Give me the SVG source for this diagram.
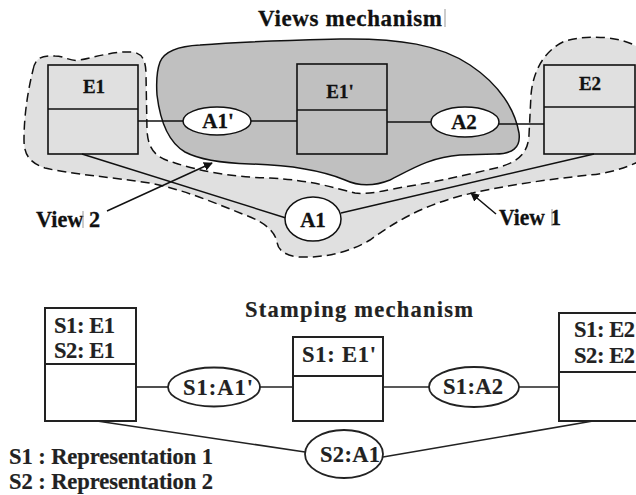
<svg xmlns="http://www.w3.org/2000/svg" width="636" height="495" viewBox="0 0 636 495">
  <style>
    text { font-family: "Liberation Serif", "Times New Roman", serif; font-weight: bold; fill: #111; stroke: #111; stroke-width: 0.3; }
    .title { font-size: 23px; }
    .ent { font-size: 19px; text-anchor: middle; }
    .rel { font-size: 21px; text-anchor: middle; }
    .stamp { font-size: 22.5px; fill: #222; stroke: #222; stroke-width: 0.2; }
    .box { fill: none; stroke: #111; stroke-width: 1.6; }
    .boxw { fill: #fff; stroke: #222; stroke-width: 2; }
    .ell { fill: #fff; stroke: #111; stroke-width: 1.5; }
    .ellb { fill: #fff; stroke: #222; stroke-width: 1.8; }
    .link { fill: none; stroke: #111; stroke-width: 1.5; }
    .linkb { fill: none; stroke: #222; stroke-width: 1.6; }
    .view { fill: #e0e0e0; stroke: #111; stroke-width: 1.5; stroke-dasharray: 9 5; }
    .mech { fill: #c0c0c0; stroke: #111; stroke-width: 1.5; }
    .bar { stroke: #999; stroke-width: 1; }
  </style>
  <defs>
    <marker id="tip" viewBox="0 0 10 10" refX="9" refY="5" markerWidth="9" markerHeight="9" orient="auto" markerUnits="userSpaceOnUse">
      <path d="M0,0 L10,5 L0,10 Z" fill="#111"/>
    </marker>
  </defs>

  <rect width="636" height="495" fill="#fff"/>

  <!-- Views mechanism -->
  <g id="views-title">
    <text class="title" x="258" y="26" textLength="184" lengthAdjust="spacing">Views mechanism</text>
    <line class="bar" x1="445" y1="9" x2="445" y2="27"/>
  </g>

  <!-- View 1 / View 2 regions (dashed outline) -->
  <g id="view-regions">
    <path class="view" d="M33,70 C35,58 42,55 55,56 C65,56 70,62 80,60 C95,57 115,51 132,52 C142,53 146,60 146,75 L147,130 C148,150 156,158 175,163 C200,171 230,177 270,178 C310,180 335,188 355,193 C370,195 385,190 410,186 C440,181 470,174 500,167 C520,161 528,152 529,135 L531,95 C533,70 545,50 565,41 C590,34 620,37 636,46 L660,60 L660,150 C640,162 620,172 590,175 C550,179 500,186 460,196 C420,207 395,222 370,240 C350,252 325,258 300,257 C285,256 278,250 277,242 C275,232 265,222 245,215 C215,203 185,190 150,183 C110,177 70,174 45,168 C30,163 24,155 24,140 C24,115 28,90 33,70 Z"/>
  </g>

  <!-- shared part of the mechanism -->
  <g id="mechanism">
    <path class="mech" d="M160,62 C165,50 180,46 200,45 C250,41 300,40 340,39 C400,38 440,45 470,65 C500,85 515,110 519,133 C521,148 512,154 495,154 L460,155 C430,157 410,170 390,180 C375,186 360,187 345,180 C320,170 290,165 250,164 C220,163 200,160 185,152 C168,142 160,120 157,95 C156,80 157,70 160,62 Z"/>
  </g>

  <!-- connectors -->
  <g id="connectors">
    <line class="link" x1="138" y1="121" x2="183" y2="121"/>
    <line class="link" x1="251" y1="121" x2="297" y2="121"/>
    <line class="link" x1="387" y1="122" x2="431" y2="122"/>
    <line class="link" x1="499" y1="124" x2="544" y2="124"/>
    <line class="link" x1="82" y1="154" x2="286" y2="218"/>
    <line class="link" x1="341" y1="213" x2="594" y2="154"/>
    <line class="link" x1="107" y1="211" x2="212" y2="163" marker-end="url(#tip)"/>
    <line class="link" x1="496" y1="214" x2="471" y2="193" marker-end="url(#tip)"/>

    <line class="linkb" x1="136" y1="387" x2="168" y2="387"/>
    <line class="linkb" x1="260" y1="387" x2="293" y2="387"/>
    <line class="linkb" x1="383" y1="387" x2="429" y2="387"/>
    <line class="linkb" x1="519" y1="387" x2="559" y2="387"/>
    <line class="linkb" x1="97" y1="421" x2="305" y2="452"/>
    <line class="linkb" x1="383" y1="457" x2="593" y2="421"/>
  </g>

  <g id="E1">
    <rect class="box" x="48" y="65" width="90" height="89"/>
    <line class="box" x1="48" y1="109" x2="138" y2="109"/>
    <text class="ent" x="94" y="93">E1</text>
  </g>
  <g id="E1p">
    <rect class="box" x="297" y="64" width="90" height="90"/>
    <line class="box" x1="297" y1="110" x2="387" y2="110"/>
    <text class="ent" x="340" y="98">E1'</text>
  </g>
  <g id="E2">
    <rect class="box" x="544" y="65" width="91" height="89"/>
    <line class="box" x1="544" y1="107" x2="635" y2="107"/>
    <text class="ent" x="590" y="90">E2</text>
  </g>
  <g id="A1p">
    <ellipse class="ell" cx="217" cy="121" rx="34" ry="14"/>
    <text class="rel" x="218" y="128">A1'</text>
  </g>
  <g id="A2">
    <ellipse class="ell" cx="465" cy="122" rx="34" ry="15"/>
    <text class="rel" x="464" y="129">A2</text>
  </g>
  <g id="A1">
    <ellipse class="ell" cx="313" cy="219" rx="28" ry="22"/>
    <text class="rel" x="313" y="227">A1</text>
  </g>

  <g id="view2-label">
    <text class="title" x="36" y="227" textLength="64" lengthAdjust="spacingAndGlyphs">View 2</text>
    <line class="bar" x1="83" y1="211" x2="83" y2="228"/>
  </g>
  <g id="view1-label">
    <text class="title" x="499" y="225" textLength="62" lengthAdjust="spacingAndGlyphs">View 1</text>
    <line class="bar" x1="552" y1="209" x2="552" y2="226"/>
  </g>

  <!-- Stamping mechanism -->
  <g id="stamping-title">
    <text class="stamp" x="245" y="317" font-size="24" textLength="228" lengthAdjust="spacing">Stamping mechanism</text>
  </g>

  <g id="S-E1">
    <rect class="boxw" x="45" y="308" width="91" height="113"/>
    <line class="boxw" x1="45" y1="364" x2="136" y2="364"/>
    <text class="stamp" x="54" y="333" textLength="61" lengthAdjust="spacing">S1: E1</text>
    <text class="stamp" x="54" y="358" textLength="61" lengthAdjust="spacing">S2: E1</text>
  </g>
  <g id="S-E1p">
    <rect class="boxw" x="293" y="337" width="90" height="84"/>
    <line class="boxw" x1="293" y1="376" x2="383" y2="376"/>
    <text class="stamp" x="302" y="362" textLength="74" lengthAdjust="spacing">S1: E1'</text>
  </g>
  <g id="S-E2">
    <rect class="boxw" x="559" y="313" width="95" height="108"/>
    <line class="boxw" x1="559" y1="372" x2="654" y2="372"/>
    <text class="stamp" x="574" y="337" textLength="61" lengthAdjust="spacing">S1: E2</text>
    <text class="stamp" x="574" y="363" textLength="61" lengthAdjust="spacing">S2: E2</text>
  </g>
  <g id="S-A1p">
    <ellipse class="ellb" cx="214" cy="387" rx="46" ry="19.5"/>
    <text class="stamp" x="183" y="395" textLength="70" lengthAdjust="spacing">S1:A1'</text>
  </g>
  <g id="S-A2">
    <ellipse class="ellb" cx="474" cy="387" rx="45" ry="20"/>
    <text class="stamp" x="443" y="394" textLength="60" lengthAdjust="spacing">S1:A2</text>
  </g>
  <g id="S-A1">
    <ellipse class="ellb" cx="344" cy="454" rx="39" ry="24"/>
    <text class="stamp" x="320" y="462" textLength="60" lengthAdjust="spacing">S2:A1</text>
  </g>

  <g id="legend">
    <text class="stamp" x="9" y="464" textLength="204" lengthAdjust="spacing">S1 : Representation 1</text>
    <text class="stamp" x="9" y="489" textLength="204" lengthAdjust="spacing">S2 : Representation 2</text>
  </g>
</svg>
